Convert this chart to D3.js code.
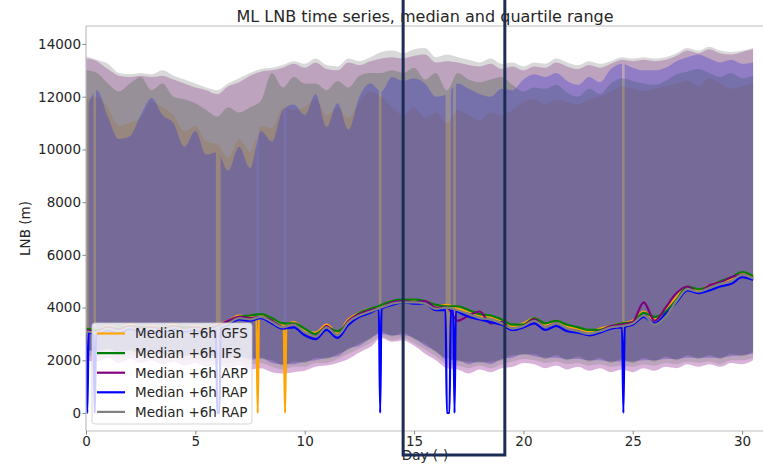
<!DOCTYPE html>
<html>
<head>
<meta charset="utf-8">
<script src="https://cdn.jsdelivr.net/npm/d3@7"></script>
<style>
  body { margin: 0; background: #fff; }
  svg { display: block; font-family: 'DejaVu Sans', sans-serif; }
</style>
</head>
<body>
<div id="chart"></div>
<script>
// time axis, every 12 h
const days = [0, 0.5, 1, 1.5, 2, 2.5, 3, 3.5, 4, 4.5, 5, 5.5, 6, 6.5, 7, 7.5, 8, 8.5, 9, 9.5,
  10, 10.5, 11, 11.5, 12, 12.5, 13, 13.5, 14, 14.5, 15, 15.5, 16, 16.5, 17, 17.5, 18, 18.5, 19, 19.5,
  20, 20.5, 21, 21.5, 22, 22.5, 23, 23.5, 24, 24.5, 25, 25.5, 26, 26.5, 27, 27.5, 28, 28.5, 29, 29.5,
  30, 30.5];

// upper quartiles (m)
const gfsHi = [11900, 12000, 11600, 10900, 11000, 11200, 11800, 11600, 11300, 10700,
  10900, 10300, 10200, 9700, 10400, 9900, 10900, 10800, 11600, 11500,
  11600, 11900, 11300, 11600, 11200, 11800, 12200, 12000, 11600, 11300,
  11600, 11200, 11400, 11000, 11500, 11300, 11100, 11400, 11300, 11500,
  11800, 11900, 11700, 11900, 11800, 11700, 11900, 12000, 12200, 12400,
  12300, 12200, 12300, 12400, 12500, 12600, 12400, 12700, 12500, 12300,
  12400, 12500];
const ifsHi = [13000, 12900, 12500, 12200, 12500, 12750, 12250, 12500, 12000, 11900,
  11750, 11500, 11250, 11600, 11400, 11600, 11850, 12900, 12350, 12750,
  12500, 12500, 12250, 12600, 12350, 12800, 12900, 12900, 13000, 12900,
  13100, 12650, 12900, 12250, 12900, 12650, 12550, 12650, 12750, 12450,
  12200, 12350, 12300, 12450, 12150, 12000, 12300, 12100, 12500, 12700,
  12600, 12500, 12450, 12600, 12850, 12950, 13050, 12900, 12750, 12900,
  12700, 12800];
const arpHi = [13450, 13350, 13050, 12800, 12750, 12800, 12750, 12800, 12650, 12500,
  12350, 12250, 12100, 12400, 12550, 12800, 12950, 13000, 13100, 13250,
  13100, 13300, 13050, 13000, 13300, 13200, 13350, 13450, 13500, 13450,
  13550, 13600, 13300, 13350, 13300, 13200, 13150, 13250, 13050, 13150,
  13000, 13150, 13100, 13300, 13150, 13050, 13200, 13100, 13250, 13400,
  13350, 13400, 13350, 13400, 13550, 13750, 13650, 13800, 13650, 13600,
  13700, 13800];
const rapHi = [11500, 12250, 11250, 10400, 10500, 11300, 11950, 11300, 11000, 10100,
  10700, 9800, 9900, 9200, 10100, 9300, 10700, 10300, 11500, 11700,
  11300, 12100, 10850, 11750, 10750, 12000, 12500, 12200, 12750, 12600,
  12700, 12500, 12000, 12100, 12500, 12300, 12100, 12000, 12300, 12250,
  12650, 12850, 12750, 12900, 12600, 12450, 12750, 12550, 13050, 13250,
  13100, 13000, 13000, 13100, 13350, 13500, 13600, 13450, 13300, 13400,
  13250, 13300];
const rap2Hi = [13540, 13400, 13250, 12900, 12850, 12900, 12850, 13000, 12800, 12650,
  12500, 12350, 12250, 12500, 12700, 12900, 13050, 13100, 13200, 13350,
  13250, 13450, 13200, 13150, 13450, 13350, 13500, 13700, 13750, 13650,
  13800, 13850, 13500, 13600, 13500, 13400, 13300, 13450, 13250, 13300,
  13150, 13300, 13250, 13450, 13300, 13200, 13350, 13250, 13350, 13500,
  13450, 13500, 13450, 13500, 13650, 13850, 13750, 13900, 13750, 13700,
  13750, 13850];

// lower quartiles (m)
const gfsLo = [2400, 2350, 2450, 2300, 2400, 2300, 2350, 2250, 2300, 2200,
  2250, 2150, 2200, 2100, 2150, 2050, 2100, 1950, 1850, 1900,
  1950, 2050, 2100, 2200, 2450, 2600, 2850, 3050, 2950, 3000,
  2850, 2600, 2350, 2050, 2000, 1900, 1950, 1900, 2050, 2150,
  2250, 2200, 2100, 2150, 2050, 2100, 2000, 2050, 1950, 2000,
  1950, 2050, 2000, 2100, 2050, 2150, 2100, 2150, 2100, 2200,
  2200, 2300];
const ifsLo = [2350, 2400, 2400, 2350, 2350, 2250, 2400, 2200, 2250, 2250,
  2200, 2200, 2150, 2150, 2100, 2100, 2050, 2000, 1800, 1950,
  1900, 2100, 2050, 2250, 2400, 2650, 2800, 3100, 2900, 3050,
  2800, 2650, 2300, 2100, 1950, 1950, 1900, 1950, 2000, 2200,
  2200, 2250, 2050, 2200, 2000, 2150, 1950, 2100, 1900, 2050,
  1900, 2100, 1950, 2150, 2000, 2200, 2050, 2200, 2050, 2250,
  2150, 2350];
const arpLo = [2000, 1950, 2100, 1900, 2050, 1900, 2000, 1850, 1950, 1800,
  1900, 1750, 1850, 1700, 1800, 1650, 1700, 1550, 1500, 1550,
  1600, 1750, 1800, 1900, 2050, 2300, 2500, 2850, 2700, 2750,
  2550, 2250, 2000, 1700, 1650, 1500, 1650, 1550, 1700, 1750,
  1900, 1850, 1700, 1800, 1650, 1750, 1600, 1700, 1550, 1650,
  1550, 1700, 1600, 1750, 1700, 1850, 1750, 1850, 1750, 1900,
  1850, 2000];
const rapLo = [2450, 2300, 2450, 2250, 2400, 2250, 2350, 2200, 2300, 2150,
  2250, 2100, 2200, 2050, 2150, 2000, 2100, 1900, 1850, 1850,
  1950, 2000, 2100, 2150, 2450, 2550, 2850, 3000, 2950, 2950,
  2850, 2550, 2350, 2000, 2000, 1850, 1950, 1850, 2050, 2100,
  2250, 2150, 2100, 2100, 2050, 2050, 2000, 2000, 1950, 1950,
  1950, 2000, 2000, 2050, 2050, 2100, 2100, 2100, 2100, 2150,
  2200, 2250];
const rap2Lo = [2200, 2150, 2250, 2100, 2200, 2100, 2150, 2050, 2100, 2000,
  2050, 1950, 2000, 1900, 1950, 1850, 1900, 1750, 1650, 1750,
  1750, 1900, 1900, 2050, 2250, 2450, 2650, 2900, 2750, 2850,
  2650, 2400, 2150, 1850, 1800, 1700, 1800, 1700, 1850, 1950,
  2050, 2000, 1900, 1950, 1850, 1900, 1800, 1850, 1750, 1800,
  1750, 1850, 1800, 1900, 1850, 1950, 1900, 1950, 1850, 2000,
  2000, 2100];

// medians (m)
const gfsMed = [3200, 3150, 3300, 3200, 3350, 3250, 3300, 3200, 3350, 3250,
  3300, 3200, 3350, 3500, 3700, 3650, 3700, 3550, 3350, 3450,
  3150, 3050, 3350, 3050, 3550, 3800, 3950, 4050, 4250, 4250,
  4250, 4250, 4050, 4100, 3950, 3850, 3700, 3650, 3500, 3300,
  3400, 3600, 3350, 3500, 3300, 3200, 3100, 3200, 3300, 3400,
  3500, 3850, 3550, 3950, 4400, 4800, 4650, 4850, 4950, 5100,
  5300, 5150];
const ifsMed = [3200, 3150, 3250, 3200, 3300, 3250, 3250, 3200, 3300, 3250,
  3250, 3200, 3300, 3450, 3650, 3700, 3750, 3600, 3400, 3400,
  3200, 3000, 3250, 3100, 3450, 3800, 3950, 4100, 4250, 4300,
  4300, 4250, 4100, 4050, 4050, 3900, 3750, 3700, 3550, 3350,
  3350, 3600, 3400, 3500, 3350, 3250, 3150, 3150, 3300, 3400,
  3450, 3800, 3650, 3850, 4300, 4800, 4700, 4800, 5000, 5150,
  5350, 5200];
const arpMed = [3150, 3100, 3250, 3150, 3300, 3200, 3250, 3150, 3300, 3200,
  3250, 3150, 3300, 3500, 3650, 3600, 3650, 3500, 3250, 3350,
  3000, 2900, 3300, 2950, 3500, 3750, 3900, 4000, 4200, 4250,
  4200, 4250, 4000, 4000, 3500, 3700, 3850, 3400, 3450, 3150,
  3300, 3550, 3250, 3400, 3150, 3100, 2950, 3100, 3300, 3350,
  3450, 4200, 3500, 4000, 4550, 4800, 4550, 4850, 4950, 5150,
  5250, 5100];
const rapMed = [3050, 3000, 3150, 3050, 3200, 3100, 3150, 3050, 3200, 3100,
  3150, 3050, 3200, 3350, 3550, 3500, 3600, 3400, 3200, 3250,
  2950, 2800, 3150, 2850, 3350, 3650, 3800, 3950, 4100, 4200,
  4150, 4150, 3900, 3950, 3850, 3650, 3550, 3450, 3350, 3150,
  3250, 3400, 3150, 3300, 3100, 3050, 2950, 3050, 3200, 3250,
  3350, 3650, 3400, 3750, 4200, 4650, 4550, 4650, 4800, 4900,
  5150, 5050];
const rap2Med = [3100, 3050, 3200, 3100, 3250, 3150, 3200, 3100, 3250, 3150,
  3200, 3100, 3250, 3400, 3600, 3550, 3650, 3450, 3250, 3350,
  3050, 2900, 3250, 2950, 3450, 3700, 3850, 4000, 4150, 4200,
  4200, 4150, 3950, 4000, 3900, 3750, 3600, 3550, 3400, 3200,
  3300, 3500, 3250, 3400, 3200, 3100, 3000, 3100, 3250, 3300,
  3400, 3700, 3350, 3650, 4250, 4700, 4600, 4750, 4900, 5000,
  5250, 5100];

// missing forecasts (value drops to 0): start day, end day, median level beside the drop
const gfsDropStart = [7.85, 9.1];
const gfsDropEnd = [7.85, 9.1];
const gfsDropLevel = [3650, 3300];
const rapDropStart = [0.06, 0.4, 6.0, 13.45, 16.5, 16.85, 24.57];
const rapDropEnd = [0.06, 0.4, 6.1, 13.45, 16.62, 16.85, 24.57];
const rapDropLevel = [3050, 3000, 3250, 3950, 3900, 3900, 3250];

const labels = ['Median +6h GFS', 'Median +6h IFS', 'Median +6h ARP', 'Median +6h RAP', 'Median +6h RAP'];
const colors = ['orange', 'green', 'purple', 'blue', 'gray'];
const yTicks = [0, 2000, 4000, 6000, 8000, 10000, 12000, 14000];
const xTicks = [0, 5, 10, 15, 20, 25, 30];
const boxDays = [14.5, 19.15];

const models = [
  {lo: gfsLo, med: gfsMed, hi: gfsHi, ds: gfsDropStart, de: gfsDropEnd, dl: gfsDropLevel},
  {lo: ifsLo, med: ifsMed, hi: ifsHi, ds: [], de: [], dl: []},
  {lo: arpLo, med: arpMed, hi: arpHi, ds: [], de: [], dl: []},
  {lo: rapLo, med: rapMed, hi: rapHi, ds: rapDropStart, de: rapDropEnd, dl: rapDropLevel},
  {lo: rap2Lo, med: rap2Med, hi: rap2Hi, ds: [], de: [], dl: []}
];
models.forEach(function(m, i) { m.label = labels[i]; m.color = colors[i]; });

const W = 763, H = 464;
const plot = {left: 86, right: 764, top: 26, bottom: 431};
const pad = 0.06;

const x = d3.scaleLinear().domain([0, 31]).range([plot.left, plot.right]);
const y = d3.scaleLinear().domain([-683, 14683]).range([plot.bottom, plot.top]);

const svg = d3.select('#chart').append('svg')
  .attr('width', W)
  .attr('height', H);

const defs = svg.append('defs');
defs.append('clipPath').attr('id', 'plotclip')
  .append('rect')
  .attr('x', plot.left).attr('y', plot.top)
  .attr('width', plot.right - plot.left).attr('height', plot.bottom - plot.top);

// masks cut the quartile band where a forecast is missing
models.forEach(function(m, i) {
  const mask = defs.append('mask').attr('id', 'gap' + i).attr('maskUnits', 'userSpaceOnUse')
    .attr('x', 0).attr('y', 0).attr('width', W).attr('height', H);
  mask.append('rect').attr('width', W).attr('height', H).attr('fill', '#fff');
  m.ds.forEach(function(s, k) {
    mask.append('rect')
      .attr('x', x(s - pad)).attr('y', 0)
      .attr('width', x(m.de[k] + pad) - x(s - pad)).attr('height', H)
      .attr('fill', '#000');
  });
});

const g = svg.append('g').attr('clip-path', 'url(#plotclip)');

const area = d3.area()
  .x(function(d) { return x(d[0]); })
  .y0(function(d) { return y(d[1]); })
  .y1(function(d) { return y(d[2]); })
  .curve(d3.curveMonotoneX);

models.forEach(function(m, i) {
  const rows = days.map(function(d, j) { return [d, m.lo[j], m.hi[j]]; });
  g.append('path')
    .attr('d', area(rows))
    .attr('fill', m.color)
    .attr('fill-opacity', 0.3)
    .attr('mask', 'url(#gap' + i + ')');
});

const line = d3.line()
  .x(function(d) { return x(d[0]); })
  .y(function(d) { return y(d[1]); })
  .curve(d3.curveMonotoneX);

models.forEach(function(m) {
  let pts = days.map(function(d, j) { return [d, m.med[j]]; })
    .filter(function(p) {
      return !m.ds.some(function(s, k) { return p[0] >= s - pad && p[0] <= m.de[k] + pad; });
    });
  m.ds.forEach(function(s, k) {
    pts.push([s - pad, m.dl[k]], [s, 0], [m.de[k], 0], [m.de[k] + pad, m.dl[k]]);
  });
  pts.sort(function(a, b) { return a[0] - b[0]; });
  g.append('path')
    .attr('d', line(pts))
    .attr('fill', 'none')
    .attr('stroke', m.color)
    .attr('stroke-width', 2.2)
    .attr('stroke-linejoin', 'round');
});

// spines
const spine = '#bdbdbd';
svg.append('line').attr('x1', plot.left).attr('x2', plot.left).attr('y1', plot.top).attr('y2', plot.bottom)
  .attr('stroke', spine).attr('stroke-width', 1.2);
svg.append('line').attr('x1', plot.left).attr('x2', plot.right).attr('y1', plot.bottom).attr('y2', plot.bottom)
  .attr('stroke', spine).attr('stroke-width', 1.2);
svg.append('line').attr('x1', plot.left).attr('x2', plot.right).attr('y1', plot.top).attr('y2', plot.top)
  .attr('stroke', spine).attr('stroke-width', 1.2);

// axes
const yAxis = svg.append('g')
  .attr('transform', 'translate(' + plot.left + ',0)')
  .call(d3.axisLeft(y).tickValues(yTicks).tickFormat(d3.format('d')).tickSize(3.5).tickPadding(1.5));
const xAxis = svg.append('g')
  .attr('transform', 'translate(0,' + plot.bottom + ')')
  .call(d3.axisBottom(x).tickValues(xTicks).tickFormat(d3.format('d')).tickSize(3.5).tickPadding(1.5));
[xAxis, yAxis].forEach(function(a) {
  a.select('.domain').remove();
  a.selectAll('line').attr('stroke', '#888');
  a.selectAll('text')
    .style('font-family', "'DejaVu Sans', sans-serif")
    .style('font-size', '13.5px')
    .attr('fill', '#262626');
});

svg.append('text')
  .attr('transform', 'translate(30,' + ((plot.top + plot.bottom) / 2) + ') rotate(-90)')
  .attr('text-anchor', 'middle')
  .style('font-size', '13.5px')
  .attr('fill', '#262626')
  .text('LNB (m)');

svg.append('text')
  .attr('x', (plot.left + plot.right) / 2)
  .attr('y', 460)
  .attr('text-anchor', 'middle')
  .style('font-size', '13.5px')
  .attr('fill', '#262626')
  .text('Day (-)');

svg.append('text')
  .attr('x', (plot.left + plot.right) / 2)
  .attr('y', 22)
  .attr('text-anchor', 'middle')
  .style('font-size', '16px')
  .attr('fill', '#262626')
  .text('ML LNB time series, median and quartile range');

// legend
const legend = svg.append('g').attr('transform', 'translate(92,323)');
legend.append('rect')
  .attr('width', 160).attr('height', 101).attr('rx', 3)
  .attr('fill', '#fff').attr('fill-opacity', 0.8)
  .attr('stroke', '#cccccc').attr('stroke-opacity', 0.8);
models.forEach(function(m, i) {
  const row = legend.append('g').attr('transform', 'translate(0,' + (10.5 + i * 19.6) + ')');
  row.append('line').attr('x1', 5).attr('x2', 33)
    .attr('stroke', m.color).attr('stroke-width', 2.2);
  row.append('text').attr('x', 43).attr('dy', '0.36em')
    .style('font-size', '13.5px')
    .attr('fill', '#262626')
    .text(m.label);
});

// highlight box drawn over the figure
svg.append('rect')
  .attr('x', x(boxDays[0])).attr('y', -5)
  .attr('width', x(boxDays[1]) - x(boxDays[0])).attr('height', 460)
  .attr('fill', 'none')
  .attr('stroke', '#1b2d55')
  .attr('stroke-width', 3);
</script>
</body>
</html>
